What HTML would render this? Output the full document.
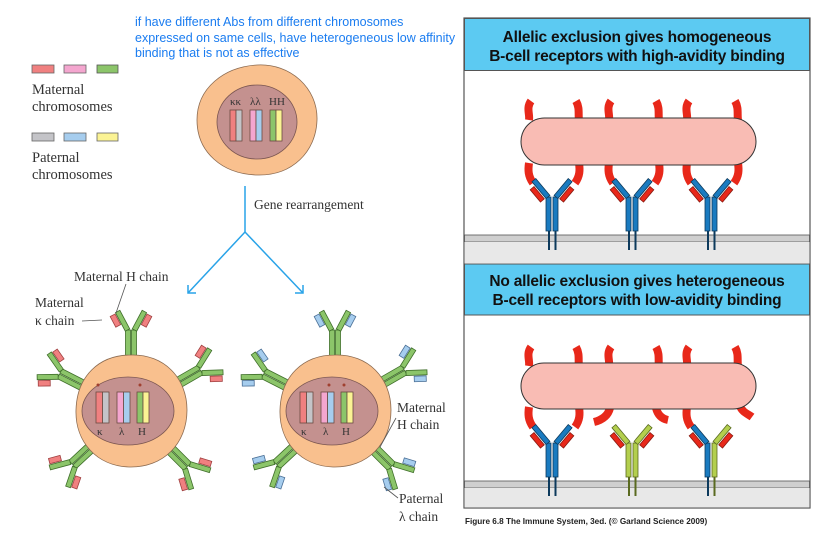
<!DOCTYPE html>
<html><head><meta charset="utf-8"><style>
html,body{margin:0;padding:0;background:#fff;}
svg{display:block}
.s{font-family:"Liberation Serif",serif;fill:#333}
.b{font-family:"Liberation Sans",sans-serif;font-weight:bold;fill:#111}
</style></head><body>
<svg width="818" height="535" viewBox="0 0 818 535" xmlns="http://www.w3.org/2000/svg">
<defs>
 <g id="abR">
  <rect x="-5.5" y="-80" width="5" height="27" fill="#8cc56a" stroke="#3f6e2a" stroke-width="0.8"/>
  <rect x="0.5" y="-80" width="5" height="27" fill="#8cc56a" stroke="#3f6e2a" stroke-width="0.8"/>
  <g transform="translate(-3.5,-80) rotate(-28)"><rect x="-2.5" y="-21" width="5" height="21" fill="#8cc56a" stroke="#3f6e2a" stroke-width="0.8"/><rect x="-9" y="-20" width="5.5" height="12" fill="#f08080" stroke="#a04040" stroke-width="0.8"/></g>
  <g transform="translate(3.5,-80) rotate(28)"><rect x="-2.5" y="-21" width="5" height="21" fill="#8cc56a" stroke="#3f6e2a" stroke-width="0.8"/><rect x="3.5" y="-20" width="5.5" height="12" fill="#f08080" stroke="#a04040" stroke-width="0.8"/></g>
 </g>
 <g id="abB">
  <rect x="-5.5" y="-80" width="5" height="27" fill="#8cc56a" stroke="#3f6e2a" stroke-width="0.8"/>
  <rect x="0.5" y="-80" width="5" height="27" fill="#8cc56a" stroke="#3f6e2a" stroke-width="0.8"/>
  <g transform="translate(-3.5,-80) rotate(-28)"><rect x="-2.5" y="-21" width="5" height="21" fill="#8cc56a" stroke="#3f6e2a" stroke-width="0.8"/><rect x="-9" y="-20" width="5.5" height="12" fill="#a6cdee" stroke="#4a6f96" stroke-width="0.8"/></g>
  <g transform="translate(3.5,-80) rotate(28)"><rect x="-2.5" y="-21" width="5" height="21" fill="#8cc56a" stroke="#3f6e2a" stroke-width="0.8"/><rect x="3.5" y="-20" width="5.5" height="12" fill="#a6cdee" stroke="#4a6f96" stroke-width="0.8"/></g>
 </g>
 <g id="abBlue">
  <line x1="-3" y1="34" x2="-3" y2="53" stroke="#0d3a5c" stroke-width="2"/>
  <line x1="3.5" y1="34" x2="3.5" y2="53" stroke="#0d3a5c" stroke-width="2"/>
  <rect x="-6" y="0" width="5" height="34" fill="#1a7bc0" stroke="#0d3a5c" stroke-width="0.8"/>
  <rect x="1" y="0" width="5" height="34" fill="#1a7bc0" stroke="#0d3a5c" stroke-width="0.8"/>
  <g transform="translate(-4,0) rotate(-40)"><rect x="-2.5" y="-22" width="5" height="22" fill="#1a7bc0" stroke="#0d3a5c" stroke-width="0.8"/><rect x="-9" y="-17" width="5" height="16" fill="#e8281a" stroke="#8a1a10" stroke-width="0.8"/></g>
  <g transform="translate(4,0) rotate(40)"><rect x="-2.5" y="-22" width="5" height="22" fill="#1a7bc0" stroke="#0d3a5c" stroke-width="0.8"/><rect x="4" y="-17" width="5" height="16" fill="#e8281a" stroke="#8a1a10" stroke-width="0.8"/></g>
 </g>
 <g id="abGreen">
  <line x1="-3" y1="34" x2="-3" y2="53" stroke="#5a6a20" stroke-width="2"/>
  <line x1="3.5" y1="34" x2="3.5" y2="53" stroke="#5a6a20" stroke-width="2"/>
  <rect x="-6" y="0" width="5" height="34" fill="#b3cf4e" stroke="#5a6a20" stroke-width="0.8"/>
  <rect x="1" y="0" width="5" height="34" fill="#b3cf4e" stroke="#5a6a20" stroke-width="0.8"/>
  <g transform="translate(-4,0) rotate(-40)"><rect x="-2.5" y="-22" width="5" height="22" fill="#b3cf4e" stroke="#5a6a20" stroke-width="0.8"/><rect x="-9" y="-17" width="5" height="16" fill="#e8281a" stroke="#8a1a10" stroke-width="0.8"/></g>
  <g transform="translate(4,0) rotate(40)"><rect x="-2.5" y="-22" width="5" height="22" fill="#b3cf4e" stroke="#5a6a20" stroke-width="0.8"/><rect x="4" y="-17" width="5" height="16" fill="#e8281a" stroke="#8a1a10" stroke-width="0.8"/></g>
 </g>
 <g id="abMix">
  <line x1="-3" y1="34" x2="-3" y2="53" stroke="#0d3a5c" stroke-width="2"/>
  <line x1="3.5" y1="34" x2="3.5" y2="53" stroke="#5a6a20" stroke-width="2"/>
  <rect x="-6" y="0" width="5" height="34" fill="#1a7bc0" stroke="#0d3a5c" stroke-width="0.8"/>
  <rect x="1" y="0" width="5" height="34" fill="#b3cf4e" stroke="#5a6a20" stroke-width="0.8"/>
  <g transform="translate(-4,0) rotate(-40)"><rect x="-2.5" y="-22" width="5" height="22" fill="#1a7bc0" stroke="#0d3a5c" stroke-width="0.8"/><rect x="-9" y="-17" width="5" height="16" fill="#e8281a" stroke="#8a1a10" stroke-width="0.8"/></g>
  <g transform="translate(4,0) rotate(40)"><rect x="-2.5" y="-22" width="5" height="22" fill="#b3cf4e" stroke="#5a6a20" stroke-width="0.8"/><rect x="4" y="-17" width="5" height="16" fill="#e8281a" stroke="#8a1a10" stroke-width="0.8"/></g>
 </g>
</defs>

<g font-family="Liberation Sans, sans-serif" font-size="12.5" fill="#1a7cf0">
 <text x="135" y="26">if have different Abs from different chromosomes</text>
 <text x="135" y="42">expressed on same cells, have heterogeneous low affinity</text>
 <text x="135" y="57">binding that is not as effective</text>
</g>

<rect x="32" y="65" width="22" height="8" fill="#f08080" stroke="#666" stroke-width="0.8"/>
<rect x="64" y="65" width="22" height="8" fill="#f4a6cf" stroke="#666" stroke-width="0.8"/>
<rect x="97" y="65" width="21" height="8" fill="#8cc56a" stroke="#555" stroke-width="0.8"/>
<text class="s" x="32" y="94" font-size="14.5">Maternal</text>
<text class="s" x="32" y="111" font-size="14.5">chromosomes</text>
<rect x="32" y="133" width="22" height="8" fill="#c4c4c8" stroke="#666" stroke-width="0.8"/>
<rect x="64" y="133" width="22" height="8" fill="#a6cdee" stroke="#666" stroke-width="0.8"/>
<rect x="97" y="133" width="21" height="8" fill="#fbf394" stroke="#666" stroke-width="0.8"/>
<text class="s" x="32" y="162" font-size="14.5">Paternal</text>
<text class="s" x="32" y="179" font-size="14.5">chromosomes</text>

<path d="M257,65 C290,63 318,88 317,120 C316,152 292,176 257,175 C222,174 197,152 197,120 C197,88 224,67 257,65Z" fill="#f9c08e" stroke="#8b6a50" stroke-width="0.8"/>
<ellipse cx="257" cy="122" rx="40" ry="37" fill="#c4918f" stroke="#7a5550" stroke-width="0.8"/>
<text class="s" x="230" y="105" font-size="11">κκ</text>
<text class="s" x="250" y="105" font-size="11">λλ</text>
<text class="s" x="269" y="105" font-size="11">HH</text>
<g stroke="#6a4a40" stroke-width="0.8">
 <rect x="230" y="110" width="6" height="31" fill="#f08080"/><rect x="236" y="110" width="6" height="31" fill="#c4c4c8"/>
 <rect x="250" y="110" width="6" height="31" fill="#f4a6cf"/><rect x="256" y="110" width="6" height="31" fill="#a6cdee"/>
 <rect x="270" y="110" width="6" height="31" fill="#8cc56a"/><rect x="276" y="110" width="6" height="31" fill="#fbf394"/>
</g>

<g stroke="#29a3e8" stroke-width="1.5" fill="none">
 <polyline points="245,186 245,232"/>
 <polyline points="245,232 188,293"/>
 <polyline points="245,232 303,293"/>
 <polyline points="188,285 188,293 196,293"/>
 <polyline points="295,293 303,293 303,285"/>
</g>
<text class="s" x="254" y="209" font-size="13.5">Gene rearrangement</text>

<g transform="translate(131,410)">
 <use href="#abR" transform="rotate(0)"/>
 <use href="#abR" transform="rotate(-63)"/>
 <use href="#abR" transform="rotate(60)"/>
 <use href="#abR" transform="rotate(-133)"/>
 <use href="#abR" transform="rotate(135)"/>
 <path d="M0,-55 C33,-56 56,-32 56,0 C56,34 32,58 -2,57 C-34,56 -56,32 -55,0 C-54,-34 -32,-55 0,-55Z" fill="#f9c08e" stroke="#8b6a50" stroke-width="0.8"/>
 <ellipse cx="-3" cy="1" rx="46" ry="34" fill="#c4918f" stroke="#7a5550" stroke-width="0.8"/>
</g>
<g stroke="#6a4a40" stroke-width="0.8">
 <rect x="96" y="392" width="6.5" height="31" fill="#f08080"/><rect x="102.5" y="392" width="6.5" height="31" fill="#c4c4c8"/>
 <rect x="117" y="392" width="6.5" height="31" fill="#f4a6cf"/><rect x="123.5" y="392" width="6.5" height="31" fill="#a6cdee"/>
 <rect x="137" y="392" width="6" height="31" fill="#8cc56a"/><rect x="143" y="392" width="6" height="31" fill="#fbf394"/>
</g>
<circle cx="98" cy="385" r="1.5" fill="#a04030"/><circle cx="140" cy="385" r="1.5" fill="#a04030"/>
<text class="s" x="97" y="435" font-size="11">κ</text><text class="s" x="119" y="435" font-size="11">λ</text><text class="s" x="138" y="435" font-size="11">H</text>

<g transform="translate(335,410)">
 <use href="#abB" transform="rotate(0)"/>
 <use href="#abB" transform="rotate(-63)"/>
 <use href="#abB" transform="rotate(60)"/>
 <use href="#abB" transform="rotate(-133)"/>
 <use href="#abB" transform="rotate(135)"/>
 <path d="M0,-55 C33,-56 56,-32 56,0 C56,34 32,58 -2,57 C-34,56 -56,32 -55,0 C-54,-34 -32,-55 0,-55Z" fill="#f9c08e" stroke="#8b6a50" stroke-width="0.8"/>
 <ellipse cx="-3" cy="1" rx="46" ry="34" fill="#c4918f" stroke="#7a5550" stroke-width="0.8"/>
</g>
<g stroke="#6a4a40" stroke-width="0.8">
 <rect x="300" y="392" width="6.5" height="31" fill="#f08080"/><rect x="306.5" y="392" width="6.5" height="31" fill="#c4c4c8"/>
 <rect x="321" y="392" width="6.5" height="31" fill="#f4a6cf"/><rect x="327.5" y="392" width="6.5" height="31" fill="#a6cdee"/>
 <rect x="341" y="392" width="6" height="31" fill="#8cc56a"/><rect x="347" y="392" width="6" height="31" fill="#fbf394"/>
</g>
<circle cx="329" cy="385" r="1.5" fill="#a04030"/><circle cx="344" cy="385" r="1.5" fill="#a04030"/>
<text class="s" x="301" y="435" font-size="11">κ</text><text class="s" x="323" y="435" font-size="11">λ</text><text class="s" x="342" y="435" font-size="11">H</text>

<text class="s" x="74" y="281" font-size="13.5">Maternal H chain</text>
<line x1="126" y1="284" x2="116" y2="313" stroke="#555" stroke-width="0.8"/>
<text class="s" x="35" y="307" font-size="13.5">Maternal</text>
<text class="s" x="35" y="325" font-size="13.5">κ chain</text>
<line x1="82" y1="321" x2="102" y2="320" stroke="#555" stroke-width="0.8"/>
<text class="s" x="397" y="412" font-size="13.5">Maternal</text>
<text class="s" x="397" y="429" font-size="13.5">H chain</text>
<line x1="396" y1="418" x2="380" y2="447" stroke="#555" stroke-width="0.8"/>
<text class="s" x="399" y="503" font-size="13.5">Paternal</text>
<text class="s" x="399" y="521" font-size="13.5">λ chain</text>
<line x1="398" y1="498" x2="384" y2="487" stroke="#555" stroke-width="0.8"/>

<rect x="464" y="18" width="346" height="490" fill="#fff" stroke="#555" stroke-width="1.2"/>
<rect x="464.5" y="18.5" width="345" height="52" fill="#5ccaf2" stroke="#555" stroke-width="1"/>
<text class="b" x="637" y="42" font-size="15.5" text-anchor="middle" letter-spacing="-0.2">Allelic exclusion gives homogeneous</text>
<text class="b" x="637" y="61" font-size="15.5" text-anchor="middle" letter-spacing="-0.2">B-cell receptors with high-avidity binding</text>
<rect x="464.5" y="235" width="345" height="7" fill="#cfcfcf" stroke="#555" stroke-width="0.8"/>
<rect x="464.5" y="242" width="345" height="21" fill="#e8e8e8" stroke="none"/>
<rect x="464.5" y="264" width="345" height="51" fill="#5ccaf2" stroke="#555" stroke-width="1"/>
<text class="b" x="637" y="286" font-size="15.5" text-anchor="middle" letter-spacing="-0.2">No allelic exclusion gives heterogeneous</text>
<text class="b" x="637" y="305" font-size="15.5" text-anchor="middle" letter-spacing="-0.2">B-cell receptors with low-avidity binding</text>
<rect x="464.5" y="481" width="345" height="7" fill="#cfcfcf" stroke="#555" stroke-width="0.8"/>
<rect x="464.5" y="488" width="345" height="19.5" fill="#e8e8e8"/>

<g stroke="#e8281a" stroke-width="8" fill="none">
 <path d="M531,101 C526,108 530,114 529,120"/><path d="M576,101 C580,108 578,114 579,120"/>
 <path d="M611,101 C606,108 610,114 609,120"/><path d="M656,101 C660,108 658,114 659,120"/>
 <path d="M689,101 C684,108 688,114 687,120"/><path d="M735,101 C739,108 737,114 738,120"/>
 <path d="M529,163 C528,170 528,176 533,183"/><path d="M579,163 C580,170 580,176 575,183"/>
 <path d="M609,163 C608,170 608,176 613,183"/><path d="M659,163 C660,170 660,176 655,183"/>
 <path d="M687,163 C686,170 686,176 691,183"/><path d="M738,163 C739,170 739,176 734,183"/>
</g>
<rect x="521" y="118" width="235" height="47" rx="23.5" fill="#f9bcb4" stroke="#333" stroke-width="1"/>
<use href="#abBlue" x="552" y="197"/>
<use href="#abBlue" x="632" y="197"/>
<use href="#abBlue" x="711" y="197"/>

<g stroke="#e8281a" stroke-width="8" fill="none">
 <path d="M531,347 C526,354 530,360 529,366"/><path d="M576,347 C580,354 578,360 579,366"/>
 <path d="M611,347 C606,354 610,360 609,366"/><path d="M656,347 C660,354 658,360 659,366"/>
 <path d="M689,347 C684,354 688,360 687,366"/><path d="M735,347 C739,354 737,360 738,366"/>
 <path d="M529,407 C528,414 528,420 533,427"/><path d="M579,407 C580,414 580,420 575,427"/>
 <path d="M610,408 C608,416 602,420 594,422"/><path d="M656,408 C658,416 663,419 668,420"/>
 <path d="M687,407 C686,414 686,420 691,427"/><path d="M740,406 C742,412 748,414 752,417"/>
</g>
<rect x="521" y="363" width="235" height="46" rx="23" fill="#f9bcb4" stroke="#333" stroke-width="1"/>
<use href="#abBlue" x="552" y="443"/>
<use href="#abGreen" x="632" y="443"/>
<use href="#abMix" x="711" y="443"/>

<text x="465" y="524" font-family="Liberation Sans, sans-serif" font-weight="bold" font-size="8.2" fill="#222">Figure 6.8  The Immune System, 3ed. (© Garland Science 2009)</text>
</svg>
</body></html>
